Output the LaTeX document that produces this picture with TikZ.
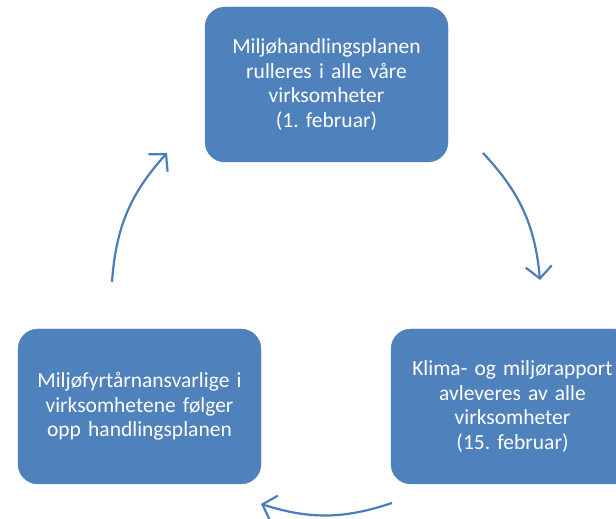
\documentclass[tikz,border=0pt]{standalone}
\usepackage{fontspec}
\setmainfont{Carlito}
\usetikzlibrary{arrows.meta}
\definecolor{boxblue}{HTML}{4F81BD}
\definecolor{arrowblue}{HTML}{4A7EBB}
\tikzset{
  stepbox/.style={rectangle,rounded corners=20pt,fill=boxblue,draw=boxblue,
    minimum width=243pt,minimum height=155pt,text width=230pt,align=center,
    text=white,font=\fontsize{21.5}{24.6}\selectfont\frenchspacing},
  cyclearrow/.style={line width=2.2pt,color=arrowblue,
    -{Straight Barb[length=12pt,width=26pt,line width=2.2pt]}}
}
\begin{document}
\begin{tikzpicture}[x=1pt,y=1pt]
\clip (0,0) rectangle (616,519);
\useasboundingbox (0,0) rectangle (616,519);
\node[stepbox] (plan) at (326.5,434.5) {Miljøhandlingsplanen\\rulleres i alle våre\\virksomheter\\(1. februar)};
\node[stepbox] (rapport) at (512.5,112.5) {Klima- og miljørapport\\avleveres av alle\\virksomheter\\(15. februar)};
\node[stepbox] (oppfolging) at (139.5,112.5) {Miljøfyrtårnansvarlige i\\virksomhetene følger\\opp handlingsplanen};
% ends of the arrows
\coordinate (a1) at (483,366);
\coordinate (a2) at (540,239);
\coordinate (b1) at (392,16);
\coordinate (b2) at (261,15);
\coordinate (c1) at (112,237);
\coordinate (c2) at (167,366);
\draw[cyclearrow] (a1) to[bend left=19] (a2);
\draw[cyclearrow] (b1) to[bend left=18] (b2);
\draw[cyclearrow] (c1) to[bend left=19] (c2);
\end{tikzpicture}
\end{document}
